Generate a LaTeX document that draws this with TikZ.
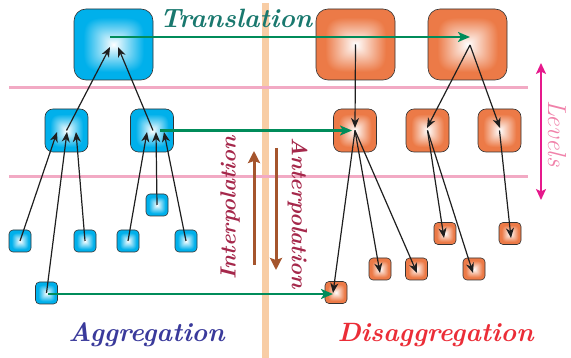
\documentclass[tikz,border=0pt]{standalone}
\usepackage{fontspec}
\usetikzlibrary{arrows.meta,calc}

% rounded-square glow: white in the middle, full colour towards the border
\pgfdeclarefunctionalshading{glowblue}{\pgfpointorigin}{\pgfpoint{100bp}{100bp}}{}{
  50 sub 25 div dup mul dup mul exch
  50 sub 25 div dup mul dup mul add sqrt sqrt
  1.3 mul dup 1 gt {pop 1} if
  dup 1.0 mul 1 exch sub exch
  dup 0.31 mul 1 exch sub exch
  0.08 mul 1 exch sub
}
\pgfdeclarefunctionalshading{gloworange}{\pgfpointorigin}{\pgfpoint{100bp}{100bp}}{}{
  50 sub 25 div dup mul dup mul exch
  50 sub 25 div dup mul dup mul add sqrt sqrt
  1.3 mul dup 1 gt {pop 1} if
  dup 0.075 mul 1 exch sub exch
  dup 0.52 mul 1 exch sub exch
  0.72 mul 1 exch sub
}

\definecolor{divpeach}{RGB}{248,205,165}
\definecolor{levelpink}{RGB}{242,170,196}
\definecolor{transgreen}{RGB}{0,140,90}
\definecolor{transteal}{RGB}{25,120,110}
\definecolor{interbrown}{RGB}{165,85,45}
\definecolor{intertext}{RGB}{165,40,75}
\definecolor{levmagenta}{RGB}{230,25,140}
\definecolor{levtext}{RGB}{240,130,170}
\definecolor{aggblue}{RGB}{58,58,155}
\definecolor{disred}{RGB}{235,45,55}

\tikzset{
  box/.style={draw=black!80, line width=0.6pt, inner sep=0pt, shade},
  agg/.style={box, shading=glowblue},
  dis/.style={box, shading=gloworange},
  bigbox/.style={minimum width=79pt, minimum height=71pt, rounded corners=12pt},
  midbox/.style={minimum size=43pt, rounded corners=8pt},
  smallbox/.style={minimum size=22pt, rounded corners=4pt},
  link/.style={draw=black!88, line width=1.2pt, -{Stealth[length=10pt,width=8pt,inset=3pt]}},
  trans/.style={draw=transgreen, line width=2.2pt, -{Stealth[length=12pt,width=10pt,inset=3pt]}},
  interarrow/.style={draw=interbrown, line width=3pt, -{Stealth[length=12pt,width=12pt,inset=2pt]}},
  levelarrow/.style={draw=levmagenta, line width=2pt, {Stealth[length=11pt,width=10pt,inset=2.5pt]}-{Stealth[length=11pt,width=10pt,inset=2.5pt]}},
  bigtext/.style={font=\fontsize{26.5}{30}\selectfont\bfseries\itshape, inner sep=0pt},
  sidetext/.style={font=\fontsize{22}{26}\selectfont\bfseries\itshape, inner sep=0pt},
}

\begin{document}
\begin{tikzpicture}[x=1pt,y=-1pt]
\useasboundingbox (0,0) rectangle (571,358);

% separator between the two halves and the level guides
\coordinate (divtop) at (265,3);
\coordinate (divbot) at (265,358);
\draw[divpeach, line width=7pt] (divtop) -- (divbot);
\coordinate (la) at (9,87.5);   \coordinate (lb) at (528,87.5);
\coordinate (lc) at (9,176.5);  \coordinate (ld) at (528,176.5);
\draw[levelpink, line width=3pt] (la) -- (lb);
\draw[levelpink, line width=3pt] (lc) -- (ld);

% aggregation side
\node[agg, bigbox]   (T0) at (113.5,44.5) {};
\node[agg, midbox]   (M1) at (66.5,130.5) {};
\node[agg, midbox]   (M2) at (152,130.5) {};
\node[agg, smallbox] (S1) at (20,241) {};
\node[agg, smallbox] (S2) at (85,241) {};
\node[agg, smallbox] (S3) at (128,241) {};
\node[agg, smallbox] (S4) at (186,241) {};
\node[agg, smallbox] (S5) at (157,205) {};
\node[agg, smallbox] (S6) at (46.5,293) {};

% disaggregation side
\node[dis, bigbox]   (TA) at (355.5,44.5) {};
\node[dis, bigbox]   (TB) at (467.5,44.5) {};
\node[dis, midbox]   (MC) at (355,130.5) {};
\node[dis, midbox]   (MD) at (427.5,130.5) {};
\node[dis, midbox]   (ME) at (499.5,130.5) {};
\node[dis, smallbox] (R1) at (445,233.5) {};
\node[dis, smallbox] (R2) at (510,233.5) {};
\node[dis, smallbox] (R3) at (380,269) {};
\node[dis, smallbox] (R4) at (416.5,269) {};
\node[dis, smallbox] (R5) at (474,269) {};
\node[dis, smallbox] (R6) at (336,292.5) {};

% aggregation links
\draw[link] (S1.center) -- ($(M1.center)+(-9.5,1.5)$);
\draw[link] (S6.center) -- ($(M1.center)+(0.5,1.5)$);
\draw[link] (S2.center) -- ($(M1.center)+(9.5,1.5)$);
\draw[link] (S3.center) -- ($(M2.center)+(-5,1.5)$);
\draw[link] (S5.center) -- ($(M2.center)+(4,1.5)$);
\draw[link] (S4.center) -- ($(M2.center)+(12,1.5)$);
\draw[link] (M1.center) -- ($(T0.center)+(-3.5,2.5)$);
\draw[link] ($(M2.center)+(1,0)$) -- ($(T0.center)+(4.5,2.5)$);

% disaggregation links
\draw[link] (TA.center) -- ($(MC.center)+(0,-2.5)$);
\draw[link] ($(TB.center)+(2.5,0.5)$) -- ($(MD.center)+(-0.5,-2.5)$);
\draw[link] ($(TB.center)+(2.5,0.5)$) -- ($(ME.center)+(0.5,-2.5)$);
\draw[link] (MC.center) -- ($(R6.center)+(-3,0.5)$);
\draw[link] (MC.center) -- ($(R3.center)+(0,4)$);
\draw[link] (MC.center) -- ($(R4.center)+(0.5,4)$);
\draw[link] (MD.center) -- ($(R1.center)+(-1,4.5)$);
\draw[link] (MD.center) -- ($(R5.center)+(-1,4)$);
\draw[link] (ME.center) -- ($(R2.center)+(1,4.5)$);

% translation between the two sides
\draw[trans] ($(T0.center)+(-3.5,-7.5)$) -- ($(TB.center)+(2.5,-7.5)$);
\draw[trans] ($(M2.center)+(8,0)$) -- ($(MC.center)+(-3,0)$);
\draw[trans] ($(S6.center)+(1.5,1)$) -- ($(R6.center)+(-3,1.5)$);

% inter-/anterpolation and levels
\coordinate (ib) at (254,265);  \coordinate (it) at (254,151);
\coordinate (at) at (276,148);  \coordinate (ab) at (276,270);
\draw[interarrow] (ib) -- (it);
\draw[interarrow] (at) -- (ab);
\coordinate (lvt) at (541,63);  \coordinate (lvb) at (541,200);
\draw[levelarrow] (lvt) -- (lvb);

% labels
\node[bigtext, text=transteal, anchor=base] (ttrans) at (236,28) {Translation};
\node[bigtext, text=aggblue, anchor=base] (tagg) at (146.5,342) {Aggregation};
\node[bigtext, text=disred, anchor=base] (tdis) at (435.5,342) {Disaggregation};
\node[sidetext, text=intertext, rotate=90] (tint) at (230,208) {Interpolation};
\node[sidetext, text=intertext, rotate=-90] (tant) at (297.5,213) {Anterpolation};
\node[text=levtext, rotate=-90, inner sep=0pt, font=\fontsize{26}{30}\selectfont\itshape] (tlev) at (557,133.5) {Levels};
\end{tikzpicture}
\end{document}
